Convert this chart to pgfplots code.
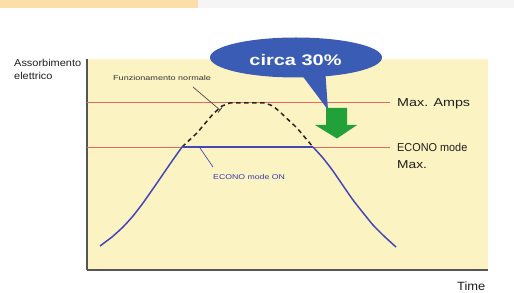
\documentclass[border=0pt]{standalone}
\usepackage{pgfplots}
\pgfplotsset{compat=1.18}
\usepackage{graphicx}
\usepackage{fontspec}
\setmainfont{Liberation Sans}
\definecolor{bgyellow}{RGB}{252,243,194}
\definecolor{axisgray}{RGB}{85,85,85}
\definecolor{curveblue}{RGB}{70,70,185}
\definecolor{linered}{RGB}{225,105,100}
\definecolor{bubble}{RGB}{58,92,180}
\definecolor{arrowgreen}{RGB}{34,160,58}
\definecolor{topstrip}{RGB}{253,222,168}
\definecolor{graystrip}{RGB}{245,245,245}
\definecolor{txt}{RGB}{30,30,30}
\definecolor{econotxt}{RGB}{55,55,175}
\newcommand\sx[2]{\scalebox{#1}[1]{#2}}
\begin{document}
\begin{tikzpicture}
\path[use as bounding box, fill=white] (0,0) rectangle (514bp,293bp);
\begin{axis}[
  at={(87bp,23bp)}, anchor=south west,
  scale only axis, width=401bp, height=211bp,
  xmin=0, xmax=401, ymin=0, ymax=211,
  axis lines*=left,
  axis line style={draw=axisgray, line width=1.2bp},
  axis background/.style={fill=bgyellow},
  xtick=\empty, ytick=\empty,
  clip=false,
]
% top strips
\fill[topstrip] (axis cs:-87,262) rectangle (axis cs:111,270);
\fill[graystrip] (axis cs:111,262) rectangle (axis cs:427,270);
% reference levels
\addplot[linered, line width=0.9bp] coordinates {(0,168) (303,168)};
\addplot[linered, line width=0.9bp] coordinates {(0,123) (303,123)};
% normal operation (dashed)
\addplot[black!85, line width=1.5bp, dash pattern=on 4.5bp off 3.5bp] coordinates {
(95,123) (110,137) (126,156) (135,164) (143,167) (178,167) (186,164) (193,158) (210,142) (226,123)};
% ECONO mode ON
\addplot[curveblue, line width=1.5bp, smooth, tension=0.3] coordinates {
(13,24) (25,33) (36,43) (46,54) (56,67) (70,87) (83,106) (95,123)};
\addplot[curveblue, line width=1.5bp] coordinates {(95,123) (226,123)};
\addplot[curveblue, line width=1.5bp, smooth, tension=0.3] coordinates {
(226,123) (236,112) (246,99) (266,70) (286,45) (298,33) (309,23)};
% leaders
\draw[black!70, line width=0.7bp] (axis cs:106,183) -- (axis cs:133,160);
\draw[black!70, line width=0.9bp] (axis cs:131,157.5) -- (axis cs:135,162.5);
\draw[curveblue, line width=0.7bp] (axis cs:113,122) -- (axis cs:126,103);
% texts
\node[anchor=base west, inner sep=0, text=txt, font=\fontsize{10}{12}\selectfont] at (axis cs:-73,203) {\sx{1.1}{Assorbimento}};
\node[anchor=base west, inner sep=0, text=txt, font=\fontsize{10}{12}\selectfont] at (axis cs:-73,190) {\sx{1.1}{elettrico}};
\node[anchor=base west, inner sep=0, text=black!80, font=\fontsize{7}{8}\selectfont] at (axis cs:26,189) {\sx{1.3}{Funzionamento normale}};
\node[anchor=base west, inner sep=0, text=econotxt, font=\fontsize{7}{8}\selectfont] at (axis cs:126,90) {\sx{1.25}{ECONO mode ON}};
\node[anchor=base west, inner sep=0, text=txt, font=\fontsize{11.5}{13}\selectfont] at (axis cs:310,163) {\sx{1.25}{Max. Amps}};
\node[anchor=base west, inner sep=0, text=txt, font=\fontsize{11.5}{13}\selectfont] at (axis cs:310,118) {\sx{0.95}{ECONO mode}};
\node[anchor=base west, inner sep=0, text=txt, font=\fontsize{11.5}{13}\selectfont] at (axis cs:310,101) {\sx{1.2}{Max.}};
\node[anchor=base west, inner sep=0, text=txt, font=\fontsize{12}{14}\selectfont] at (axis cs:370,-20) {\sx{1.08}{Time}};
% speech bubble
\fill[bubble] (axis cs:211,200) -- (axis cs:238,202) -- (axis cs:241,160) -- cycle;
\fill[bubble] (axis cs:209,212.5) ellipse [x radius=86bp, y radius=20bp];
\node[text=white, inner sep=0, font=\fontsize{15.4}{17}\selectfont\bfseries] at (axis cs:208.5,209.5) {\sx{1.3}{circa 30\%}};
% green arrow
\fill[arrowgreen] (axis cs:239,162) -- (axis cs:260,162) -- (axis cs:260,145) -- (axis cs:270,145)
  -- (axis cs:250,131.5) -- (axis cs:228,145) -- (axis cs:239,145) -- cycle;
\end{axis}
\end{tikzpicture}
\end{document}
